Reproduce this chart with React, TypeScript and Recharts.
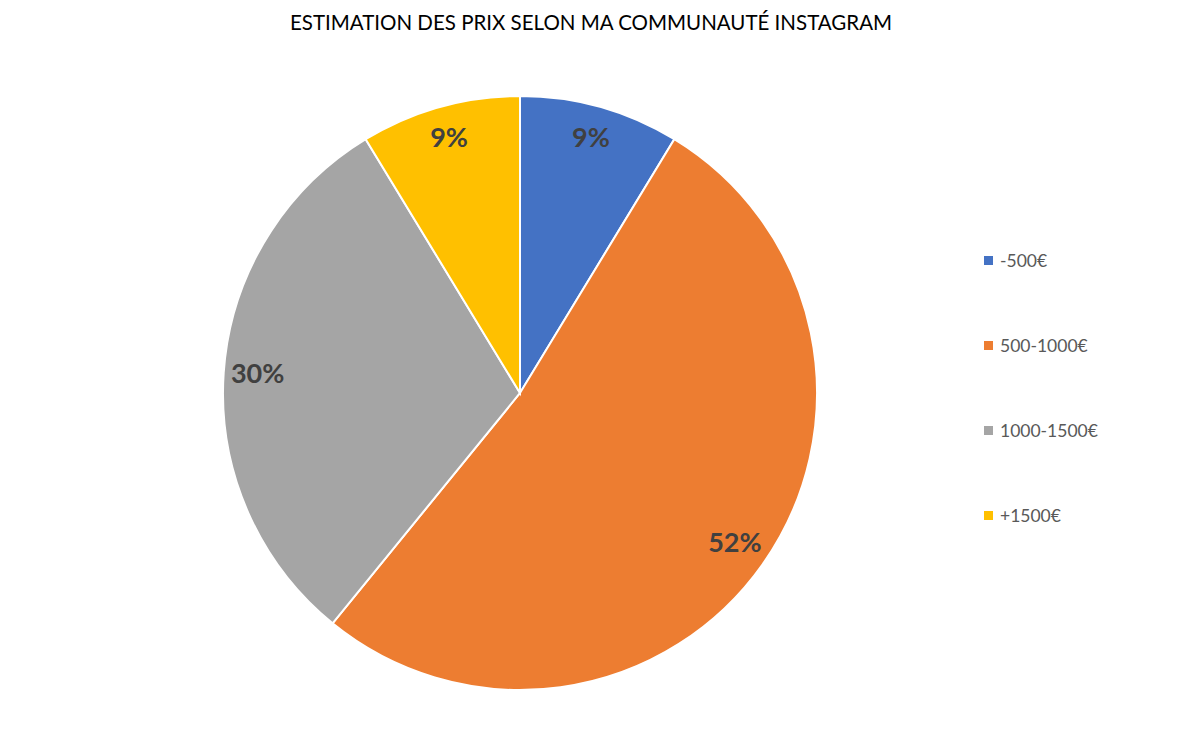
import { PieChart, Pie, Cell, Legend } from 'recharts';

const CATEGORIES = ['-500€', '500-1000€', '1000-1500€', '+1500€'];
const VOTES = [2, 12, 7, 2];
const COLORS = ['#4472c4', '#ed7d31', '#a5a5a5', '#ffc000'];

const TITLE = 'ESTIMATION DES PRIX SELON MA COMMUNAUTÉ INSTAGRAM';

const data = CATEGORIES.map((name, i) => ({ name, value: VOTES[i] }));
const total = VOTES.reduce((a, b) => a + b, 0);

const RADIAN = Math.PI / 180;

const renderLabel = (props: any) => {
  const { cx, cy, midAngle, value } = props;
  const r = 263;
  const x = cx + r * Math.cos(-midAngle * RADIAN);
  const y = cy + r * Math.sin(-midAngle * RADIAN) - 3;
  return (
    <text
      x={x}
      y={y}
      fill="#404040"
      fontSize={27}
      fontWeight="bold"
      fontFamily="Lato, 'Open Sans', sans-serif"
      textAnchor="middle"
      dominantBaseline="central"
    >
      {`${Math.round((value / total) * 100)}%`}
    </text>
  );
};

const renderLegend = () => (
  <div style={{ fontFamily: "Lato, 'Open Sans', sans-serif", fontSize: 17.5, color: '#595959' }}>
    {CATEGORIES.map((name, i) => (
      <div key={name} style={{ display: 'flex', alignItems: 'center', height: 85 }}>
        <span style={{ width: 9, height: 9, background: COLORS[i], display: 'inline-block', marginRight: 7 }} />
        <span>{name}</span>
      </div>
    ))}
  </div>
);

export default function App() {
  return (
    <div style={{ position: 'absolute', left: 0, top: 0, width: 1186, height: 748, background: '#fff' }}>
      <PieChart width={1186} height={748} margin={{ top: 0, right: 0, bottom: 0, left: 0 }}>
        <text
          x={591}
          y={22}
          textAnchor="middle"
          dominantBaseline="central"
          fontSize={20.5}
          fill="#000"
          fontFamily="Lato, 'Open Sans', sans-serif"
        >
          {TITLE}
        </text>
        <Pie
          data={data}
          dataKey="value"
          nameKey="name"
          cx={520}
          cy={393}
          outerRadius={297}
          startAngle={90}
          endAngle={-270}
          stroke="#ffffff"
          strokeWidth={2}
          label={renderLabel}
          labelLine={false}
          isAnimationActive={false}
        >
          {data.map((_, i) => (
            <Cell key={`cell-${i}`} fill={COLORS[i]} />
          ))}
        </Pie>
        <Legend
          layout="vertical"
          content={renderLegend}
          wrapperStyle={{ position: 'absolute', left: 984, top: 218, width: 180 }}
        />
      </PieChart>
    </div>
  );
}
